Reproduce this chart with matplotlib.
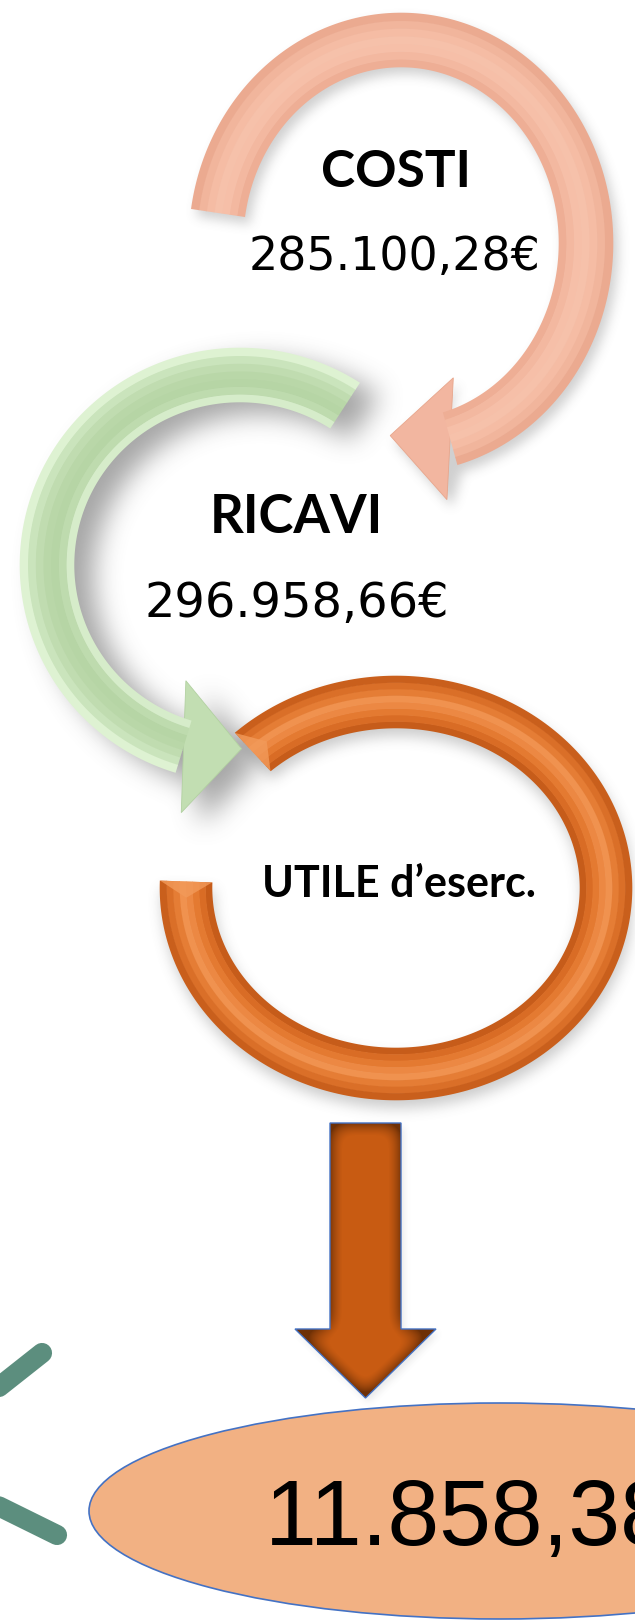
import numpy as np
import matplotlib
matplotlib.use("Agg")
import matplotlib.pyplot as plt
from matplotlib.patches import Polygon, Ellipse
from matplotlib.path import Path

# ---------------- data ----------------
categories = ["COSTI", "RICAVI", "UTILE d\u2019eserc."]
amounts = [285100.28, 296958.66]
result = 11858.38
currency = "\u20ac"


def it_fmt(v):
    s = f"{v:,.2f}"
    return s.replace(",", "X").replace(".", ",").replace("X", ".")


# ---------------- canvas ----------------
W, H = 635, 1621
fig = plt.figure(figsize=(W / 100, H / 100), dpi=100)
fig.patch.set_facecolor("white")
ax = fig.add_axes([0, 0, 1, 1])
ax.set_xlim(0, W)
ax.set_ylim(H, 0)
ax.axis("off")


def ell(cx, cy, rx, ry, t, d):
    t = np.radians(np.atleast_1d(t))
    return np.c_[cx + (rx + d) * np.cos(t), cy - (ry + d) * np.sin(t)]


def band(g, t0, t1, d0, d1, n=240):
    ts = np.linspace(t0, t1, n)
    return np.vstack([ell(*g, ts, d1), ell(*g, ts[::-1], d0)])


def arrow_poly(g, t0, t1, hw, head_dir, head_len, head_w, n=240):
    ts = np.linspace(t0, t1, n)
    outer = ell(*g, ts, hw)
    inner = ell(*g, ts[::-1], -hw)
    bc = ell(*g, t1, 0)[0]
    phi = np.radians(head_dir)
    u = np.array([np.cos(phi), np.sin(phi)])
    p = np.array([-u[1], u[0]])
    b1, b2 = bc + head_w * p, bc - head_w * p
    if np.linalg.norm(b1 - outer[-1]) > np.linalg.norm(b2 - outer[-1]):
        b1, b2 = b2, b1
    tip = bc + head_len * u
    return np.vstack([outer, [b1, tip, b2], inner]), np.array([b1, tip, b2])


# geometry of the three cycle shapes (pixel space)
g_cost = (401, 243, 185, 203)
g_rev = (240, 565, 193, 190)
g_prof = (396, 888, 210, 186)

cost_poly, cost_head = arrow_poly(g_cost, 171.5, -74.6, 27, 183, 60, 61)
rev_poly, rev_head = arrow_poly(g_rev, 57, 253, 27, 2, 58, 66)
prof_poly = band(g_prof, 133, -182, -26, 26, 400)

# down arrow
ax_c, sh_hw, top_y, hb_y, h_hw, tip_y = 365.5, 35.5, 1123, 1329, 70.5, 1398
down_poly = np.array([
    [ax_c - sh_hw, top_y], [ax_c + sh_hw, top_y], [ax_c + sh_hw, hb_y],
    [ax_c + h_hw, hb_y], [ax_c, tip_y], [ax_c - h_hw, hb_y], [ax_c - sh_hw, hb_y]])

# ---------------- raster helpers (shadows / shading) ----------------
yy, xx = np.mgrid[0:H, 0:W] + 0.5
pts = np.c_[xx.ravel(), yy.ravel()]


def mask_of(poly):
    return Path(poly).contains_points(pts).reshape(H, W).astype(float)


def box(a, r, axis):
    pad = [(0, 0), (0, 0)]
    pad[axis] = (r + 1, r)
    c = np.cumsum(np.pad(a, pad), axis=axis)
    n = a.shape[axis]
    if axis == 0:
        return (c[2 * r + 1:2 * r + 1 + n] - c[0:n]) / (2 * r + 1)
    return (c[:, 2 * r + 1:2 * r + 1 + n] - c[:, 0:n]) / (2 * r + 1)


def blur(a, r, passes=3):
    for _ in range(passes):
        a = box(a, r, 0)
        a = box(a, r, 1)
    return a


def shift(a, dx, dy):
    out = np.zeros_like(a)
    ys = slice(max(dy, 0), H + min(dy, 0))
    yd = slice(max(-dy, 0), H + min(-dy, 0))
    xs = slice(max(dx, 0), W + min(dx, 0))
    xd = slice(max(-dx, 0), W + min(-dx, 0))
    out[ys, xs] = a[yd, xd]
    return out


m_cost = mask_of(cost_poly)
m_rev = mask_of(rev_poly)
m_prof = mask_of(prof_poly)
m_down = mask_of(down_poly)

shadow = (0.32 * blur(shift(m_cost, 5, 7), 5)
          + 0.60 * blur(shift(m_rev, 20, 12), 12)
          + 0.35 * blur(shift(m_prof, 2, 8), 6)
          + 0.15 * blur(shift(m_down, 3, 4), 3))
shadow = np.clip(shadow, 0, 0.6)
sh_img = np.zeros((H, W, 4))
sh_img[..., :3] = 0.42
sh_img[..., 3] = shadow
ax.imshow(sh_img, extent=(0, W, H, 0), interpolation="bilinear", zorder=1)


def hex2rgb(h):
    h = h.lstrip("#")
    return np.array([int(h[i:i + 2], 16) / 255 for i in (0, 2, 4)])


def draw_band(g, t0, t1, hw, colors, z, n=300):
    k = len(colors)
    edges = np.linspace(-hw, hw, k + 1)
    for i, c in enumerate(colors):
        ax.add_patch(Polygon(band(g, t0, t1, edges[i] - 0.3, edges[i + 1] + 0.3, n),
                             closed=True, facecolor=c, edgecolor="none", zorder=z))


# ---------------- COSTI arrow (pink) ----------------
ax.add_patch(Polygon(cost_head, closed=True, facecolor="#F2B6A0", edgecolor="#E8A68C",
                     lw=0.6, zorder=2))
draw_band(g_cost, 171.5, -74.6, 27,
          ["#EEAE95", "#F3B8A0", "#F6BFA8", "#F6C1AA", "#F5BCA4", "#F1B59C", "#EBAA90"], 2)

# ---------------- RICAVI arrow (green) ----------------
ax.add_patch(Polygon(rev_head, closed=True, facecolor="#C2DEB2", edgecolor="#B2D1A1",
                     lw=0.6, zorder=3))
draw_band(g_rev, 57, 253, 27,
          ["#D6ECCA", "#BEDBAE", "#B6D5A5", "#B9D7A8", "#C0DCB0", "#CAE4BC", "#DEF2D2"], 3)

# ---------------- UTILE ring (orange) ----------------
draw_band(g_prof, 133, -182, 26,
          ["#C65C1A", "#D96C25", "#E47A31", "#EC8843", "#F0924F", "#E57D35", "#DA6F28", "#C95F1C"], 4)
# bevelled end faces
for t, sgn in ((133, 1), (-182, -1)):
    a = ell(*g_prof, t, 26)[0]
    b = ell(*g_prof, t, -26)[0]
    m = ell(*g_prof, t - sgn * 5, 0)[0]
    ax.add_patch(Polygon([a, b, m], closed=True, facecolor="#F29A5A", edgecolor="none",
                         alpha=0.8, zorder=4))

# ---------------- down arrow with shaded gradient ----------------
depth = blur(m_down, 9)
shade = np.clip((depth - 0.45) / 0.45, 0, 1) ** 0.8
dark, light = hex2rgb("#6E3006"), hex2rgb("#C85B12")
img = np.zeros((H, W, 4))
img[..., :3] = dark + (light - dark) * shade[..., None]
img[..., 3] = m_down
ax.imshow(img, extent=(0, W, H, 0), interpolation="bilinear", zorder=5)
ax.add_patch(Polygon(down_poly, closed=True, facecolor="none", edgecolor="#4472C4",
                     lw=1.0, zorder=6))

# ---------------- result ellipse ----------------
ax.add_patch(Ellipse((500, 1511), 822, 216, facecolor="#F2B183", edgecolor="#4472C4",
                     lw=1.2, zorder=5))

# ---------------- decorative green strokes at left ----------------
ax.plot([-20, 42], [1402, 1353], color="#5C8E7E", lw=14.5, solid_capstyle="round", zorder=5)
ax.plot([-20, 57], [1497, 1535], color="#5C8E7E", lw=14.5, solid_capstyle="round", zorder=5)

# ---------------- texts ----------------
lab_font = dict(family=["Lato", "DejaVu Sans"], weight="bold", color="black", zorder=10)
num_font = dict(family=["DejaVu Sans"], color="black", zorder=10)

ax.text(396, 187, categories[0], fontsize=37, ha="center", va="baseline", **lab_font)
ax.text(395, 270, it_fmt(amounts[0]) + currency, fontsize=33, ha="center", va="baseline", **num_font)
ax.text(296, 533, categories[1], fontsize=38, ha="center", va="baseline", **lab_font)
ax.text(297, 617, it_fmt(amounts[1]) + currency, fontsize=34.5, ha="center", va="baseline", **num_font)
ax.text(399, 897, categories[2], fontsize=31, ha="center", va="baseline", **lab_font)
ax.text(265, 1545, it_fmt(result) + " " + currency, fontsize=67, ha="left", va="baseline",
        family=["Liberation Sans", "DejaVu Sans"], color="black", zorder=10)

fig.savefig("out.png", dpi=100, facecolor="white")
